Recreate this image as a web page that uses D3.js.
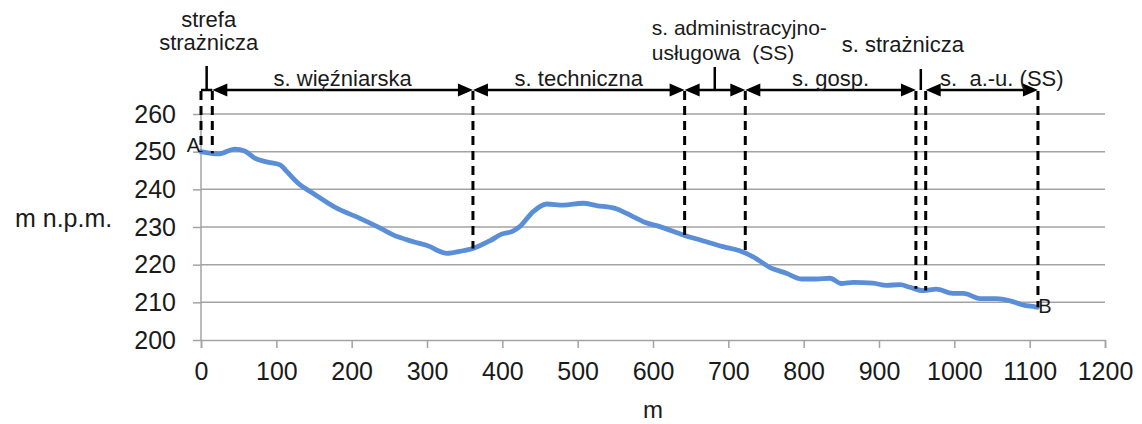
<!DOCTYPE html>
<html>
<head>
<meta charset="utf-8">
<script src="https://cdn.jsdelivr.net/npm/d3@7/dist/d3.min.js"></script>
<style>
  html, body { margin: 0; padding: 0; background: #fff; }
  svg { display: block; font-family: "Liberation Sans", Arial, sans-serif; }
</style>
</head>
<body>
<svg id="chart" width="1142" height="424"></svg>
<script>
// Terrain profile A–B: distance along the transect (m) and elevation (m n.p.m.)
const distance = [0, 23, 45, 58, 72, 87, 105, 114, 129, 149, 180, 211, 238, 255, 282, 304,
  315, 326, 348, 361, 384, 399, 414, 423, 441, 459, 481, 507, 525, 552, 574, 591, 609, 640,
  667, 693, 715, 733, 755, 777, 797, 817, 835, 850, 866, 892, 910, 928, 941, 959, 976, 998,
  1012, 1034, 1056, 1074, 1091, 1107, 1110];
const elevation = [250, 249.4, 250.7, 250.2, 248.2, 247.3, 246.5, 244.7, 241.6, 238.9, 235,
  232.3, 229.7, 227.9, 226.1, 224.8, 223.7, 223, 223.7, 224.3, 226.4, 228.1, 228.9, 230.1,
  234.1, 236.1, 235.8, 236.3, 235.7, 234.8, 232.7, 231.1, 230.1, 227.9, 226.3, 224.8, 223.7,
  222.1, 219.3, 217.7, 216.2, 216.2, 216.4, 215, 215.3, 215.1, 214.5, 214.7, 214, 213.1,
  213.5, 212.4, 212.4, 211, 211, 210.4, 209.3, 208.8, 208.7];

const xTicks = [0, 100, 200, 300, 400, 500, 600, 700, 800, 900, 1000, 1100, 1200];
const yTicks = [200, 210, 220, 230, 240, 250, 260];

// Zone boundaries along the transect (m)
const zoneBounds = [0, 15, 361, 642, 722.5, 949, 962, 1111];
// Double-headed arrows spanning zones, with the label written over each
const spanStart = [15, 361, 642, 722.5, 962];
const spanEnd   = [361, 642, 722.5, 949, 1111];
const spanLabel = ["s. więźniarska", "s. techniczna", "", "s. gosp.", "s.\u00a0 a.-u. (SS)"];
// Narrow zones labelled through a short leader line
const leaderAt = [7.5, 682, 955.5];
const leaderLabel = [["strefa", "strażnicza"], ["s. administracyjno-", "usługowa\u00a0 (SS)"], ["s. strażnicza"]];

const svg = d3.select("#chart");
const plotL = 201, plotR = 1105, plotT = 114, plotB = 340;

const x = d3.scaleLinear().domain([0, 1200]).range([plotL, plotR]);
const y = d3.scaleLinear().domain([200, 260]).range([plotB, plotT]);

const gridColor = "#a3a3a3";
const ink = "#1a1a1a";

// Horizontal gridlines
svg.append("g").selectAll("line").data(yTicks.filter(d => d > 200)).join("line")
  .attr("x1", plotL).attr("x2", plotR)
  .attr("y1", d => y(d)).attr("y2", d => y(d))
  .attr("stroke", gridColor).attr("stroke-width", 1.5);

// Y axis
const yAxis = svg.append("g").attr("transform", `translate(${plotL},0)`)
  .call(d3.axisLeft(y).tickValues(yTicks).tickSize(8).tickPadding(17).tickFormat(d3.format("d")));
// X axis
const xAxis = svg.append("g").attr("transform", `translate(0,${plotB})`)
  .call(d3.axisBottom(x).tickValues(xTicks).tickSize(8).tickPadding(14).tickFormat(d3.format("d")));

[yAxis, xAxis].forEach(a => {
  a.selectAll("path").attr("stroke", gridColor).attr("stroke-width", 1.5);
  a.selectAll("line").attr("stroke", gridColor).attr("stroke-width", 1.5);
  a.selectAll("text").attr("fill", ink).style("font-size", "25px")
    .style("font-family", '"Liberation Sans", Arial, sans-serif');
});
yAxis.select(".domain").attr("d", `M0,${plotB}V${plotT}`);
yAxis.selectAll("text").attr("dy", "0.33em");
xAxis.selectAll("text").attr("dy", "0.71em");

// Axis titles
svg.append("text").attr("x", 15).attr("y", 227)
  .attr("fill", ink).style("font-size", "25px").text("m n.p.m.");
svg.append("text").attr("x", (plotL + plotR) / 2).attr("y", 418)
  .attr("text-anchor", "middle").attr("fill", ink).style("font-size", "24px").text("m");

// Elevation profile
const pts = distance.map((d, i) => [d, elevation[i]]);
svg.append("path").datum(pts)
  .attr("fill", "none").attr("stroke", "#5a8fd8").attr("stroke-width", 4.8)
  .attr("stroke-linejoin", "round").attr("stroke-linecap", "round")
  .attr("d", d3.line().x(d => x(d[0])).y(d => y(d[1])).curve(d3.curveMonotoneX));

// Endpoint labels
svg.append("text").attr("x", x(0) - 1).attr("y", y(elevation[0]))
  .attr("text-anchor", "end").attr("fill", ink).style("font-size", "20px").text("A");
svg.append("text").attr("x", x(distance[distance.length - 1]) + 1).attr("y", y(elevation[elevation.length - 1]) + 6)
  .attr("fill", ink).style("font-size", "20px").text("B");

// Elevation at a given distance, linearly between profile points
const elevAt = d => {
  const i = Math.max(1, Math.min(distance.length - 1, d3.bisectLeft(distance, d)));
  const t = (d - distance[i - 1]) / (distance[i] - distance[i - 1]);
  return elevation[i - 1] + Math.max(0, Math.min(1, t)) * (elevation[i] - elevation[i - 1]);
};

const arrowY = 90;

// Dashed zone boundaries, from the arrow row down to the profile
svg.append("g").selectAll("line").data(zoneBounds).join("line")
  .attr("x1", d => x(d)).attr("x2", d => x(d))
  .attr("y1", arrowY + 1).attr("y2", d => y(elevAt(d)))
  .attr("stroke", "#000").attr("stroke-width", 3).attr("stroke-dasharray", "9,6");

// Short bar over the first narrow zone
svg.append("line").attr("x1", x(zoneBounds[0])).attr("x2", x(zoneBounds[1]))
  .attr("y1", arrowY).attr("y2", arrowY).attr("stroke", "#000").attr("stroke-width", 2.5);

// Arrows
const headLen = 15, headHalf = 6.5;
const arrows = svg.append("g");
spanStart.forEach((s, i) => {
  const x0 = x(s), x1 = x(spanEnd[i]);
  arrows.append("line").attr("x1", x0 + headLen - 2).attr("x2", x1 - headLen + 2)
    .attr("y1", arrowY).attr("y2", arrowY).attr("stroke", "#000").attr("stroke-width", 2.5);
  arrows.append("path").attr("fill", "#000")
    .attr("d", `M${x0},${arrowY}L${x0 + headLen},${arrowY - headHalf}L${x0 + headLen},${arrowY + headHalf}Z`);
  arrows.append("path").attr("fill", "#000")
    .attr("d", `M${x1},${arrowY}L${x1 - headLen},${arrowY - headHalf}L${x1 - headLen},${arrowY + headHalf}Z`);
});

// Labels over the arrows
const spanShift = [0, 0, 0, 0, 20];
svg.append("g").selectAll("text").data(spanLabel).join("text")
  .attr("x", (d, i) => (x(spanStart[i]) + x(spanEnd[i])) / 2 + spanShift[i])
  .attr("y", 86).attr("text-anchor", "middle").attr("fill", ink)
  .style("font-size", "22px").text(d => d);

// Leader lines for the narrow zones
svg.append("g").selectAll("line").data(leaderAt).join("line")
  .attr("x1", d => x(d)).attr("x2", d => x(d))
  .attr("y1", (d, i) => [66, 67, 69][i]).attr("y2", arrowY)
  .attr("stroke", "#000").attr("stroke-width", 2.5);

// Leader labels
const leaderAnchor = ["middle", "start", "middle"];
const leaderDx = [2, -63, -18];
const leaderBase = [[27, 50], [35, 60], [52]];
leaderLabel.forEach((lines, i) => {
  lines.forEach((t, j) => {
    svg.append("text")
      .attr("x", x(leaderAt[i]) + leaderDx[i]).attr("y", leaderBase[i][j])
      .attr("text-anchor", leaderAnchor[i]).attr("fill", ink)
      .style("font-size", i === 1 ? "21px" : "22px").text(t);
  });
});
</script>
</body>
</html>
